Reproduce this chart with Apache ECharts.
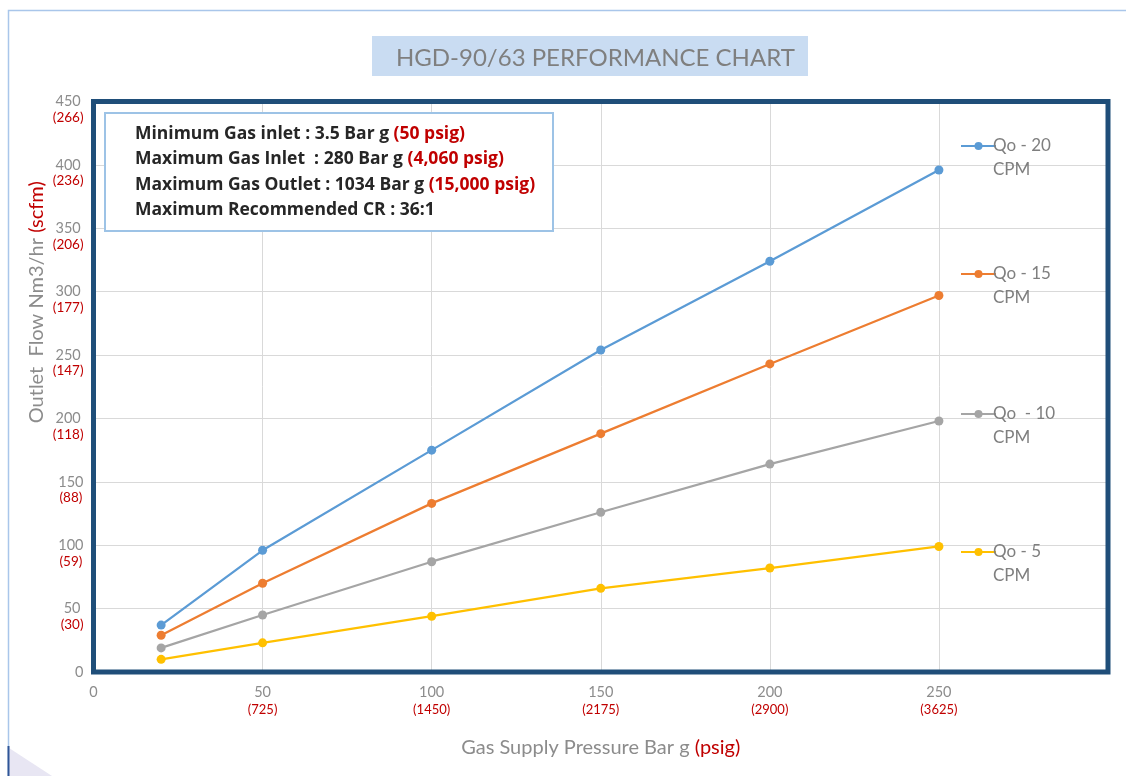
<!DOCTYPE html>
<html>
<head>
<meta charset="utf-8">
<script src="https://cdn.jsdelivr.net/npm/echarts@6/dist/echarts.min.js"></script>
<style>
html,body{margin:0;padding:0;background:#fff;}
#chart{width:1126px;height:776px;}
</style>
</head>
<body>
<div id="chart"></div>
<script>
// ---- data ----
const pressureBar = [20, 50, 100, 150, 200, 250];
const seriesNames = ['Qo - 20', 'Qo - 15', 'Qo  - 10', 'Qo - 5'];
const qo20 = [37, 96, 175, 254, 324, 396];
const qo15 = [29, 70, 133, 188, 243, 297];
const qo10 = [19, 45, 87, 126, 164, 198];
const qo5  = [10, 23, 44, 66, 82, 99];
const seriesColors = ['#5B9BD5', '#ED7D31', '#A5A5A5', '#FFC000'];
// secondary tick labels
const yTickValues = [0, 50, 100, 150, 200, 250, 300, 350, 400, 450];
const yTickScfm   = ['', '(30)', '(59)', '(88)', '(118)', '(147)', '(177)', '(206)', '(236)', '(266)'];
const xTickValues = [0, 50, 100, 150, 200, 250, 300];
const xTickPsig   = ['', '(725)', '(1450)', '(2175)', '(2900)', '(3625)', ''];
const legendSub = 'CPM';
const legendTops = [105, 233, 373, 511];
const infoLines = [
  ['Minimum Gas inlet : 3.5 Bar g ', '(50 psig)'],
  ['Maximum Gas Inlet  : 280 Bar g ', '(4,060 psig)'],
  ['Maximum Gas Outlet : 1034 Bar g ', '(15,000 psig)'],
  ['Maximum Recommended CR : 36:1', '']
];
const titleText = 'HGD-90/63 PERFORMANCE CHART';

const FONT = 'Lato';
const GRAY = '#8C8C8C';
const RED = '#C00000';

// grid placement (pixels)
const G = {left: 93.5, right: 18, top: 101.5, bottom: 104};
const W = 1126, H = 776;

const allData = [qo20, qo15, qo10, qo5];
const series = allData.map((vals, i) => ({
  name: seriesNames[i],
  type: 'line',
  data: pressureBar.map((x, j) => [x, vals[j]]),
  symbol: 'circle',
  symbolSize: 9,
  lineStyle: {width: 2.25, color: seriesColors[i]},
  itemStyle: {color: seriesColors[i]},
  z: 5
}));

const legends = seriesNames.map((n, i) => ({
  data: [n],
  left: 955,
  top: legendTops[i],
  orient: 'vertical',
  itemWidth: 35,
  itemHeight: 10,
  itemGap: 4,
  formatter: name => '\n' + name + '\n' + legendSub,
  textStyle: {fontFamily: FONT, fontSize: 17, color: '#7F7F7F', lineHeight: 24, padding: [0,0,0,-8]}
}));

const chart = echarts.init(document.getElementById('chart'));
chart.setOption({
  animation: false,
  backgroundColor: '#fff',
  title: {
    text: titleText,
    left: 396,
    top: 45,
    padding: 0,
    textStyle: {fontFamily: FONT, fontSize: 24, fontWeight: 'normal', color: '#7F7F7F', lineHeight: 26}
  },
  legend: legends,
  grid: {
    left: G.left, right: G.right, top: G.top, bottom: G.bottom,
    show: false,
    containLabel: false
  },
  xAxis: {
    type: 'value', min: 0, max: 300, interval: 50,
    axisLine: {show: false}, axisTick: {show: false},
    splitLine: {show: true, lineStyle: {color: '#D9D9D9', width: 1}},
    axisLabel: {
      margin: 12,
      formatter: (v) => {
        const k = xTickValues.indexOf(v);
        if (v === 300) return '';
        const red = k >= 0 ? xTickPsig[k] : '';
        return red ? '{a|' + v + '}\n{b|' + red + '}' : '{a|' + v + '}';
      },
      rich: {
        a: {fontFamily: FONT, fontSize: 14.5, color: GRAY, lineHeight: 17, align: 'center'},
        b: {fontFamily: FONT, fontSize: 13, color: RED, lineHeight: 17, align: 'center'}
      },
      verticalAlign: 'top'
    },
    name: '{a|Gas Supply Pressure Bar g }{b|(psig)}',
    nameLocation: 'middle',
    nameGap: 66,
    nameTextStyle: {
      rich: {
        a: {fontFamily: FONT, fontSize: 20, color: GRAY},
        b: {fontFamily: FONT, fontSize: 20, color: RED}
      }
    }
  },
  yAxis: {
    type: 'value', min: 0, max: 450, interval: 50,
    axisLine: {show: false}, axisTick: {show: false},
    splitLine: {show: true, lineStyle: {color: '#D9D9D9', width: 1}},
    axisLabel: {
      margin: 10,
      formatter: (v) => {
        const k = yTickValues.indexOf(v);
        const red = k >= 0 ? yTickScfm[k] : '';
        return red ? '{e|}\n{a|' + v + '}\n{b|' + red + '}' : '{a|' + v + '}';
      },
      rich: {
        e: {fontSize: 12, lineHeight: 16, align: 'center'},
        a: {fontFamily: FONT, fontSize: 14.5, color: GRAY, lineHeight: 16, align: 'center'},
        b: {fontFamily: FONT, fontSize: 13.5, color: RED, lineHeight: 16, align: 'center'}
      }
    },
    name: '{a|Outlet  Flow Nm3/hr }{b|(scfm)}',
    nameLocation: 'middle',
    nameRotate: 90,
    nameGap: 47,
    nameMoveOverlap: false,
    nameTextStyle: {
      padding: [0, 0, 0, 169],
      rich: {
        a: {fontFamily: FONT, fontSize: 20, color: GRAY},
        b: {fontFamily: FONT, fontSize: 20, color: RED}
      }
    }
  },
  graphic: [
    {type: 'rect', z: -10, silent: true, shape: {x: 8.5, y: 10.5, width: 1300, height: 900},
     style: {fill: 'none', stroke: '#A9C6EA', lineWidth: 1.5}},
    {type: 'polygon', z: -9, silent: true, shape: {points: [[9, 748], [9, 776], [52, 776]]},
     style: {fill: '#E8E6F3'}},
    {type: 'line', z: -8, silent: true, shape: {x1: 8.5, y1: 746, x2: 8.5, y2: 776},
     style: {stroke: '#2F5597', lineWidth: 2}},
    {type: 'rect', z: -5, silent: true, shape: {x: 372, y: 36, width: 436, height: 40},
     style: {fill: '#C9DCF2'}},
    // plot-area frame
    {type: 'rect', z: 2, silent: true,
     shape: {x: G.left, y: G.top, width: W - G.left - G.right, height: H - G.top - G.bottom},
     style: {fill: 'none', stroke: '#1F4E79', lineWidth: 5}},
    {type: 'rect', z: 10, silent: true, shape: {x: 105, y: 113, width: 448, height: 118},
     style: {fill: '#fff', stroke: '#9DC3E6', lineWidth: 2}},
    {type: 'text', z: 11, silent: true, left: 135, top: 125,
     style: {
       text: infoLines.map(l => '{k|' + l[0] + '}' + (l[1] ? '{r|' + l[1] + '}' : '')).join('\n'),
       rich: {
         k: {fontFamily: 'Open Sans', fontSize: 17.5, fontWeight: 'bold', fill: '#262626', lineHeight: 25.3},
         r: {fontFamily: 'Open Sans', fontSize: 17.5, fontWeight: 'bold', fill: RED, lineHeight: 25.3}
       }
     }}
  ],
  series: series
});
</script>
</body>
</html>
